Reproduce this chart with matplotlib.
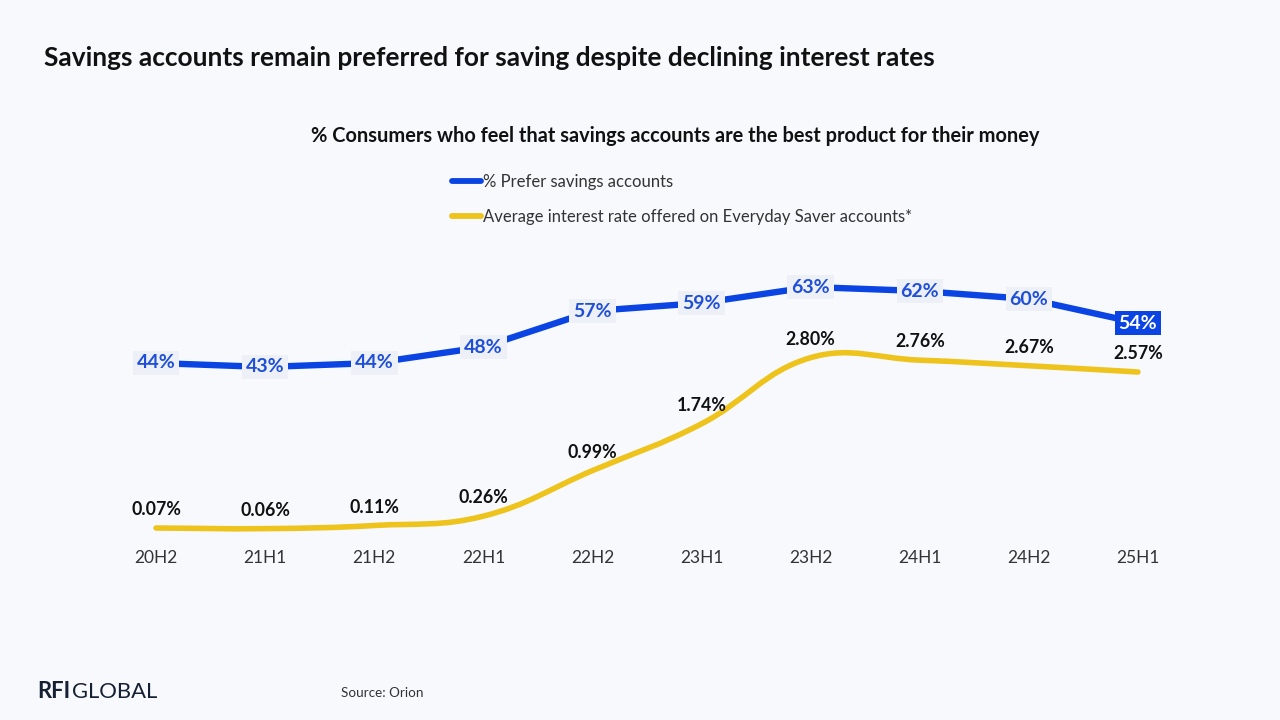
import matplotlib
matplotlib.use("Agg")
import matplotlib.pyplot as plt
from matplotlib.path import Path
from matplotlib.patches import PathPatch
from matplotlib.lines import Line2D
import numpy as np

periods = ["20H2", "21H1", "21H2", "22H1", "22H2", "23H1", "23H2", "24H1", "24H2", "25H1"]
prefer_savings = [44, 43, 44, 48, 57, 59, 63, 62, 60, 54]
interest_rate = [0.07, 0.06, 0.11, 0.26, 0.99, 1.74, 2.80, 2.76, 2.67, 2.57]

BG = "#F7F9FD"
BLUE = "#0A45E3"
YELLOW = "#EEC31C"
FONT = "Lato"

plt.rcParams['font.family'] = [FONT, 'DejaVu Sans']

fig = plt.figure(figsize=(12.8, 7.2), dpi=100, facecolor=BG)

# axes: pixel x 101.5..1192.5, pixel y 260..540
left = 101.5 / 1280
width = (1192.5 - 101.5) / 1280
bottom = 1 - 540 / 720
height = 280 / 720
ax = fig.add_axes([left, bottom, width, height])
ax.set_facecolor("none")
ax2 = ax.twinx()
ax2.set_facecolor("none")

x = np.arange(len(periods))
ax.set_xlim(-0.5, len(periods) - 0.5)
ax.set_ylim(-0.25, 69.75)
ax2.set_ylim(-0.1223, 4.365)

for a in (ax, ax2):
    for s in a.spines.values():
        s.set_visible(False)
    a.tick_params(axis='y', left=False, right=False, labelleft=False, labelright=False)
ax.set_xticks(x)
ax.set_xticklabels(periods, fontsize=12.5, color="#333333")
ax.tick_params(axis='x', length=0, pad=7)

# Yellow smooth line (Chart.js-style bezier, tension 0.4)
fig.canvas.draw()
pts = ax2.transData.transform(np.column_stack([x, interest_rate]))
tension = 0.4
n = len(pts)
cp_prev = np.zeros_like(pts)
cp_next = np.zeros_like(pts)
for i in range(n):
    prev = pts[i - 1] if i > 0 else pts[i]
    cur = pts[i]
    nxt = pts[i + 1] if i < n - 1 else pts[i]
    d01 = np.hypot(*(cur - prev))
    d12 = np.hypot(*(nxt - cur))
    tot = d01 + d12
    s01 = d01 / tot if tot else 0
    s12 = d12 / tot if tot else 0
    cp_prev[i] = cur - tension * s01 * (nxt - prev)
    cp_next[i] = cur + tension * s12 * (nxt - prev)
verts = [pts[0]]
codes = [Path.MOVETO]
for i in range(n - 1):
    verts += [cp_next[i], cp_prev[i + 1], pts[i + 1]]
    codes += [Path.CURVE4] * 3
inv = ax2.transData.inverted()
verts_data = inv.transform(np.array(verts))
path = Path(verts_data, codes)
ax2.add_patch(PathPatch(path, facecolor="none", edgecolor=YELLOW, lw=4.0,
                        capstyle="round", joinstyle="round", transform=ax2.transData, zorder=2))

for xi, v in zip(x, interest_rate):
    ax2.annotate(f"{v:.2f}%", (xi, v), xytext=(0, 7), textcoords="offset points",
                 ha="center", va="bottom", fontsize=12.8, fontweight="bold", color="#111111", zorder=3)

# Blue line on top axis
ax3 = fig.add_axes(ax.get_position(), sharex=ax)
ax3.set_ylim(ax.get_ylim())
ax3.set_facecolor("none")
ax3.axis("off")
ax3.plot(x, prefer_savings, color=BLUE, lw=4.6, solid_capstyle="butt", solid_joinstyle="round", zorder=2)
for i, (xi, v) in enumerate(zip(x, prefer_savings)):
    last = i == len(x) - 1
    ax3.text(xi, v, f"{v}%", ha="center", va="center", fontsize=14, fontweight="bold",
             color="white" if last else "#1F4FD8", zorder=4,
             bbox=dict(boxstyle="square,pad=0.2", fc=BLUE if last else "#EDF0F6", ec="none"))

# Titles
fig.text(44 / 1280, 1 - 58 / 720, "Savings accounts remain preferred for saving despite declining interest rates",
         ha="left", va="center", fontsize=18.9, fontweight="bold", color="#111111")
fig.text(675 / 1280, 1 - 136 / 720, "% Consumers who feel that savings accounts are the best product for their money",
         ha="center", va="center", fontsize=14.4, fontweight="bold", color="#111111")

# Legend
handles = [Line2D([0], [0], color=BLUE, lw=4.2, solid_capstyle="round"),
           Line2D([0], [0], color=YELLOW, lw=4.2, solid_capstyle="round")]
labels = ["% Prefer savings accounts", "Average interest rate offered on Everyday Saver accounts*"]
leg = fig.legend(handles, labels, loc="upper left", bbox_to_anchor=(452 / 1280, 1 - 174 / 720),
                 frameon=False, fontsize=12, handlelength=1.75, handletextpad=0.12,
                 labelspacing=1.14, borderaxespad=0, borderpad=0)
for t in leg.get_texts():
    t.set_color("#333333")

# Footer
t1 = fig.text(37 / 1280, 1 - 692 / 720, "RFI", ha="left", va="center", fontsize=15.8,
              fontweight="bold", color="#152033")
fig.canvas.draw()
bb = t1.get_window_extent()
fig.text((bb.x1 + 2) / 1280, 1 - 692 / 720, "GLOBAL", ha="left", va="center", fontsize=15.8,
         color="#152033")
fig.text(341 / 1280, 1 - 693 / 720, "Source: Orion", ha="left", va="center", fontsize=9.7, color="#333333")

fig.savefig("out.png", dpi=100, facecolor=BG)
